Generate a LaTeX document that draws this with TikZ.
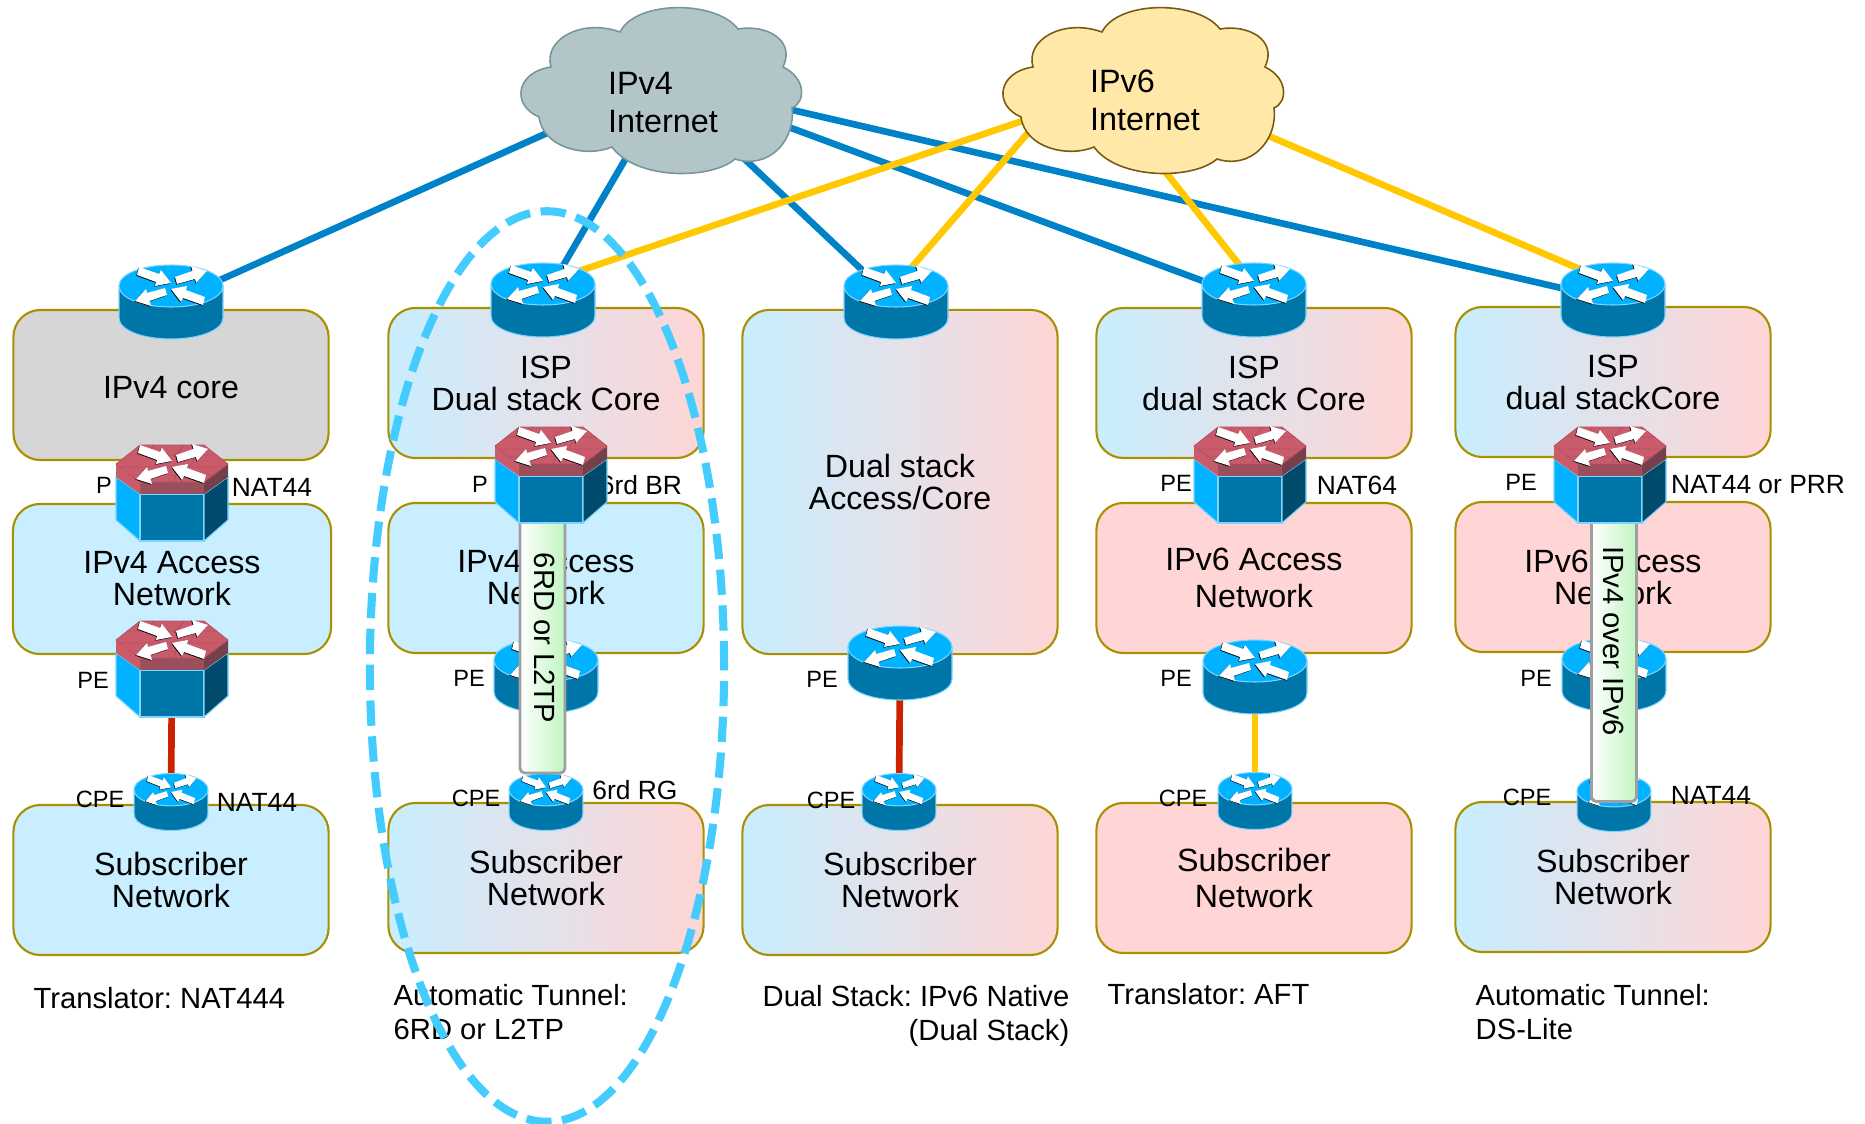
\documentclass[tikz,border=0pt]{standalone}
\usepackage{fontspec}
\setmainfont{Liberation Sans}
\frenchspacing
\usepackage{tikz}
\usetikzlibrary{calc,positioning,shapes.geometric}
\definecolor{boxEdge}{RGB}{168,144,0}
\definecolor{boxBlue}{RGB}{200,238,255}
\definecolor{boxPink}{RGB}{255,213,213}
\definecolor{boxGray}{RGB}{214,214,214}
\definecolor{linkBlue}{RGB}{0,130,200}
\definecolor{linkYellow}{RGB}{255,200,0}
\definecolor{linkRed}{RGB}{204,34,0}
\definecolor{ringBlue}{RGB}{68,204,255}
\definecolor{iconTop}{RGB}{0,178,255}
\definecolor{iconFront}{RGB}{0,117,168}
\definecolor{iconDark}{RGB}{0,74,107}
\definecolor{iconEdge}{RGB}{127,212,255}
\definecolor{hexTop}{RGB}{201,91,107}
\definecolor{hexFront}{RGB}{156,78,92}
\definecolor{hexDark}{RGB}{116,64,75}
\definecolor{hexGrid}{RGB}{182,80,96}
\definecolor{pipeGreen}{RGB}{192,245,192}
\definecolor{cloudGray}{RGB}{178,198,201}
\definecolor{cloudGrayEdge}{RGB}{120,150,153}
\definecolor{cloudYellow}{RGB}{255,232,168}
\definecolor{cloudYellowEdge}{RGB}{122,90,16}
\pgfdeclarelayer{links}
\pgfsetlayers{links,main}
\tikzstyle{netbox}=[draw=boxEdge, line width=0.6pt, rounded corners=0.27cm,
                    minimum width=3.15cm, minimum height=1.5cm, align=center,
                    inner sep=0pt, font=\fontsize{9.15}{9.1}\selectfont]
\tikzstyle{dualbox}=[netbox, left color=boxBlue, right color=boxPink]
\tikzstyle{blueside}=[netbox, fill=boxBlue]
\tikzstyle{pinkside}=[netbox, fill=boxPink]
\tikzstyle{tag}=[inner sep=0pt, font=\fontsize{7.5}{9}\selectfont]
\tikzstyle{edgetag}=[inner sep=0pt, font=\fontsize{6.7}{9}\selectfont]
\tikzstyle{caption}=[inner sep=0pt, align=left, anchor=west,
                     font=\fontsize{8.3}{9.8}\selectfont]
\tikzstyle{cloudtext}=[inner sep=0pt, align=left,
                       font=\fontsize{9.2}{10.8}\selectfont]
\tikzstyle{v4link}=[linkBlue, line width=1.9pt]
\tikzstyle{v6link}=[linkYellow, line width=1.9pt]
\tikzstyle{tail}=[linkRed, line width=1.9pt]
\tikzstyle{pipe}=[draw=gray!75, line width=0.8pt, rounded corners=0.05cm,
                  left color=white, right color=pipeGreen,
                  minimum width=0.45cm, inner sep=0pt]
\tikzstyle{pipetext}=[rotate=-90, inner sep=0pt, font=\fontsize{8.3}{9}\selectfont]
\tikzstyle{spot}=[inner sep=0pt, minimum size=0.32cm]
\tikzstyle{cpesize}=[xscale=0.71, yscale=0.77]
\newcommand{\routerarrows}{
\foreach \c/\d in {black/0.7,white/0}
	\foreach \s in {1,-1}
		\fill [\c,shift={(-\d,\d)},scale=\s]
			(-34,-11) -- (-15,-4) -- (-16,0) -- (0,-3) -- (-10,-16) -- (-12,-12) -- (-32,-19) -- cycle
			(6,-2) -- (24,-7) -- (25,-3) -- (36,-15) -- (20,-20) -- (21.5,-15) -- (4,-9) -- cycle;
}
\tikzset{
	roundrouter/.pic={
		\path [fill=iconFront,draw=iconEdge,line width=0.3pt] (-52,-16) -- (-52,16)
			.. controls (-52,28) and (-29,37) .. (0,37)
			.. controls (29,37) and (52,28) .. (52,16) -- (52,-16) -- cycle;
		\path [fill=iconTop,draw=iconEdge,line width=0.3pt] (-52,-16)
			.. controls (-52,-28) and (-29,-37) .. (0,-37)
			.. controls (29,-37) and (52,-28) .. (52,-16)
			.. controls (52,-4) and (29,5) .. (0,5)
			.. controls (-29,5) and (-52,-4) .. (-52,-16) -- cycle;
		\begin{scope}[yshift=0.16cm]
		\routerarrows
		\end{scope}
		\node (-c) [spot] at (0,0){};
	},
	hexrouter/.pic={
		\path [fill=iconTop,draw=iconEdge,line width=0.3pt] (-56,-16) -- (-32,1) -- (-32,48) -- (-56,27) -- cycle;
		\path [fill=iconFront,draw=iconEdge,line width=0.3pt] (-32,1) -- (32,1) -- (32,48) -- (-32,48) -- cycle;
		\path [fill=iconDark,draw=iconEdge,line width=0.3pt] (32,1) -- (56,-16) -- (56,27) -- (32,48) -- cycle;
		\fill [hexFront] (-32,-11) -- (32,-11) -- (32,1) -- (-32,1) -- cycle;
		\fill [hexDark] (32,-11) -- (56,-29) -- (56,-16) -- (32,1) -- cycle;
		\fill [hexTop] (-56,-29) -- (-32,-11) -- (-32,1) -- (-56,-16) -- cycle;
		\path [fill=hexTop,draw=hexGrid,line width=0.2pt] (-56,-29) -- (-32,-48) -- (32,-48) -- (56,-29) -- (32,-11) -- (-32,-11) -- cycle;
		\draw [hexGrid,line width=0.25pt] (-45,-38) -- (45,-38) (-52,-26) -- (52,-26) (-44,-18) -- (44,-18)
			(-18,-48) -- (-26,-38) (12,-48) -- (4,-38) (-6,-38) -- (-14,-26) (24,-38) -- (18,-26)
			(-26,-26) -- (-32,-11) (6,-26) -- (2,-11);
		\begin{scope}[yshift=0.29cm]
		\routerarrows
		\end{scope}
		\node (-c) [spot] at (0,0){};
	},
	puff/.pic={
		\path [pic actions,line width=0.45pt] (-41,-58)
			.. controls (-25,-90) and (55,-90) .. (77,-61)
			.. controls (105,-66) and (135,-50) .. (122,-23)
			.. controls (145,-12) and (145,12) .. (131,18)
			.. controls (135,50) and (108,80) .. (74,69)
			.. controls (50,90) and (-25,90) .. (-49,57)
			.. controls (-75,68) and (-118,58) .. (-122,27)
			.. controls (-150,15) and (-145,-18) .. (-110,-23)
			.. controls (-118,-50) and (-80,-72) .. (-41,-58) -- cycle;
	}
}

\begin{document}
\begin{tikzpicture}[x=0.01cm,y=-0.01cm]
\useasboundingbox (0,0) rectangle (1865,1124);
%%%%%%%%%%%%%%%%%%%%%%%%%%%%%%%%%%%%%%%%%%%%%%%%
%%%%%%%%%%           Clouds           %%%%%%%%%%
%%%%%%%%%%%%%%%%%%%%%%%%%%%%%%%%%%%%%%%%%%%%%%%%
\pic (cl4) [fill=cloudGray,draw=cloudGrayEdge] at (661,90) {puff};
\pic (cl6) [fill=cloudYellow,draw=cloudYellowEdge] at (1143,90) {puff};
\node (v4) [cloudtext] at (663,102.5) {IPv4\\Internet};
\node (v6) [cloudtext] at (1145,100.5) {IPv6\\Internet};

\coordinate (v4a) at (565,125);
\coordinate (v4b) at (636,141);
\coordinate (v4c) at (735,150);
\coordinate (v4d) at (775,122);
\coordinate (v4e) at (775,106);
\coordinate (v6b) at (1040,115);
\coordinate (v6c) at (1040,119);
\coordinate (v6d) at (1156,160);
\coordinate (v6e) at (1250,128);

%%%%%%%%%%%%%%%%%%%%%%%%%%%%%%%%%%%%%%%%%%%%%%%%
%%%%%%%%%%       Translator v4        %%%%%%%%%%
%%%%%%%%%%%%%%%%%%%%%%%%%%%%%%%%%%%%%%%%%%%%%%%%
\begin{scope}[shift={(171,0)}]
\node (coreA) [netbox,fill=boxGray,text height=8pt] at (0,385){IPv4 core};
\node (accA) [blueside,minimum width=3.18cm] at (1,579){IPv4 Access\\Network};
\node (subA) [blueside] at (0,880){Subscriber\\Network};

\node (t1) [edgetag] at (-67,485){P};
\node (t2) [tag] at (101,487){NAT44};
\node (t3) [edgetag] at (-78,680){PE};
\node (t4) [edgetag] at (-71,799){CPE};
\node (t5) [tag] at (86,802){NAT44};

\pic (rA) at (0,302) {roundrouter};
\pic (pA) at (1,493) {hexrouter};
\pic (peA) at (1,669) {hexrouter};
\pic (cpeA) [cpesize] at (0,802) {roundrouter};

\node (capA) [caption] at (-138,998){Translator: NAT444};
\end{scope}

%%%%%%%%%%%%%%%%%%%%%%%%%%%%%%%%%%%%%%%%%%%%%%%%
%%%%%%%%%%        Tunnel 6RD          %%%%%%%%%%
%%%%%%%%%%%%%%%%%%%%%%%%%%%%%%%%%%%%%%%%%%%%%%%%
\begin{scope}[shift={(546,0)}]
\node (coreB) [dualbox] at (0,383){ISP\\Dual stack Core};
\node (accB) [blueside] at (0,578){IPv4 Access\\Network};
\node (subB) [dualbox] at (0,878){Subscriber\\Network};

\node (t1) [edgetag] at (-66,484){P};
\node (t2) [tag] at (95,485){6rd BR};
\node (t3) [edgetag] at (-77,678){PE};
\node (t4) [edgetag] at (-70,798){CPE};
\node (t5) [tag] at (89,790){6rd RG};

\pic (rB) at (-3,300) {roundrouter};
\pic (peB) at (0,676) {roundrouter};
\pic (cpeB) [cpesize] at (0,802) {roundrouter};

\node (pipeB) [pipe,minimum height=2.58cm] at (-3.5,644){};
\node (pipeBt) [pipetext] at (-1,638){6RD or L2TP};

\pic (pB) at (5,475) {hexrouter};

\node (capB) [caption] at (-153,1012){Automatic Tunnel:\\6RD or L2TP};
\end{scope}

%%%%%%%%%%%%%%%%%%%%%%%%%%%%%%%%%%%%%%%%%%%%%%%%
%%%%%%%%%%        Dual Stack          %%%%%%%%%%
%%%%%%%%%%%%%%%%%%%%%%%%%%%%%%%%%%%%%%%%%%%%%%%%
\begin{scope}[shift={(900,0)}]
\node (coreC) [dualbox,minimum height=3.44cm] at (0,482){Dual stack\\Access/Core};
\node (subC) [dualbox] at (0,880){Subscriber\\Network};

\node (t1) [edgetag] at (-78,679){PE};
\node (t2) [edgetag] at (-69,800){CPE};

\pic (rC) at (-4,302) {roundrouter};
\pic (peC) at (0,663) {roundrouter};
\pic (cpeC) [cpesize] at (-1,802) {roundrouter};

\node (capC) [caption,align=right,anchor=east] at (170,1016){Dual Stack: IPv6 Native\\(Dual Stack)};
\end{scope}

%%%%%%%%%%%%%%%%%%%%%%%%%%%%%%%%%%%%%%%%%%%%%%%%
%%%%%%%%%%       Translator v6        %%%%%%%%%%
%%%%%%%%%%%%%%%%%%%%%%%%%%%%%%%%%%%%%%%%%%%%%%%%
\begin{scope}[shift={(1254,0)}]
\node (coreD) [dualbox] at (0,383){ISP\\dual stack Core};
\node (accD) [pinkside,font=\fontsize{9.15}{10.5}\selectfont] at (0,578){IPv6 Access\\Network};
\node (subD) [pinkside,font=\fontsize{9.15}{10.5}\selectfont] at (0,878){Subscriber\\Network};

\node (t1) [edgetag] at (-78,483){PE};
\node (t2) [tag] at (103,485){NAT64};
\node (t3) [edgetag] at (-78,678){PE};
\node (t4) [edgetag] at (-71,798){CPE};

\pic (rD) at (0,300) {roundrouter};
\pic (pD) at (-4,475) {hexrouter};
\pic (peD) at (1,677) {roundrouter};
\pic (cpeD) [cpesize] at (1,801) {roundrouter};

\node (capD) [caption] at (-147,994){Translator: AFT};
\end{scope}

%%%%%%%%%%%%%%%%%%%%%%%%%%%%%%%%%%%%%%%%%%%%%%%%
%%%%%%%%%%        Tunnel DS           %%%%%%%%%%
%%%%%%%%%%%%%%%%%%%%%%%%%%%%%%%%%%%%%%%%%%%%%%%%
\begin{scope}[shift={(1613,0)}]
\node (coreE) [dualbox] at (0,382){ISP\\dual stackCore};
\node (accE) [pinkside] at (0,577){IPv6 Access\\Network};
\node (subE) [dualbox] at (0,877){Subscriber\\Network};

\node (t1) [edgetag] at (-92,482){PE};
\node (t2) [tag] at (145,485){NAT44 or PRR};
\node (t3) [edgetag] at (-77,678){PE};
\node (t4) [edgetag] at (-86,797){CPE};
\node (t5) [tag] at (98,795){NAT44};

\pic (rE) at (0,300) {roundrouter};
\pic (peE) at (1,675) {roundrouter};
\pic (cpeE) [cpesize] at (1,803) {roundrouter};

\node (pipeE) [pipe,minimum height=2.87cm] at (1,658){};
\node (pipeEt) [pipetext] at (1,641){IPv4 over IPv6};

\pic (pE) at (-3,475) {hexrouter};

\node (capE) [caption] at (-138,1012){Automatic Tunnel:\\DS-Lite};
\end{scope}

%%%%%%%%%%%%%%%%%%%%%%%%%%%%%%%%%%%%%%%%%%%%%%%%
%%%%%%%%%%           Links            %%%%%%%%%%
%%%%%%%%%%%%%%%%%%%%%%%%%%%%%%%%%%%%%%%%%%%%%%%%
\begin{pgfonlayer}{links}
\foreach \i/\j in {a/A,b/B,c/C,d/D,e/E}
	\draw [v4link] (v4\i) to (r\j-c);
\foreach \i/\j in {b/B,c/C,d/D,e/E}
	\draw [v6link] (v6\i) to (r\j-c.north);

\draw [tail] (peA-c) to (cpeA-c);
\draw [tail] (peC-c) to (cpeC-c);
\draw [v6link] (peD-c) to (cpeD-c);
\end{pgfonlayer}

% dashes go over everything else
\node (ring) [draw=ringBlue,ellipse,line width=2.3pt,dash pattern=on 7.2pt off 3pt,
	minimum width=3.54cm,minimum height=9.1cm,inner sep=0pt] at (547,666.5){};

\end{tikzpicture}
\end{document}
